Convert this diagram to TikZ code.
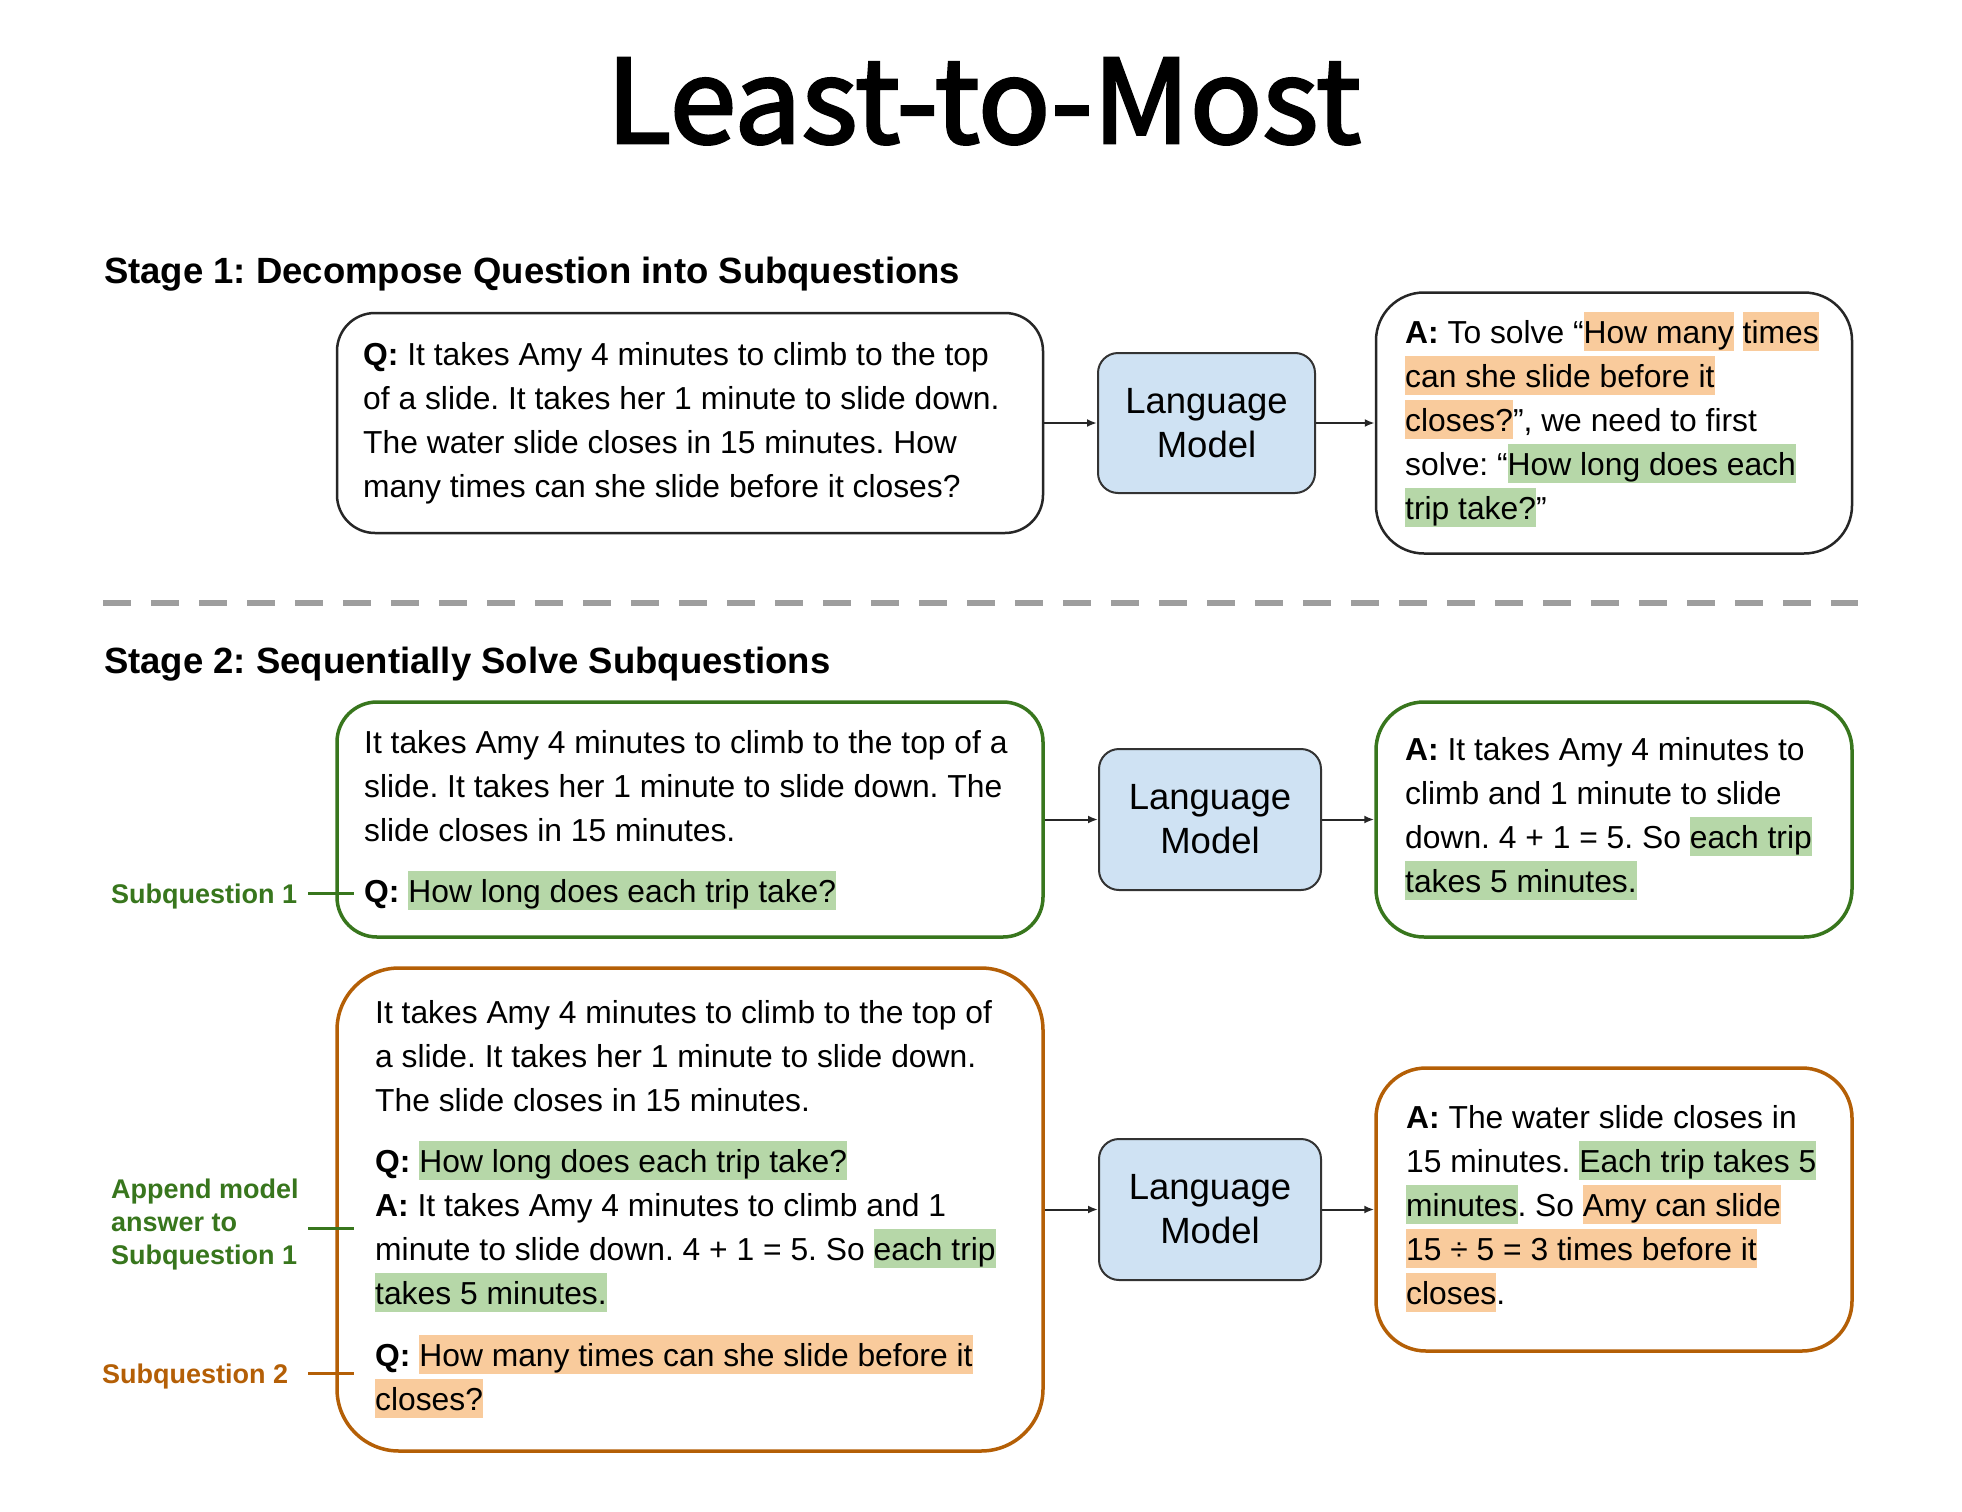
\documentclass[tikz,border=0pt]{standalone}
\usepackage{fontspec}
\usepackage{graphicx}
\setmainfont{Liberation Sans}
\newfontfamily\titlefont{Noto Sans CJK KR}[AutoFakeBold=2.5]
\usetikzlibrary{arrows.meta}
\definecolor{hlgreen}{HTML}{B6D7A8}
\definecolor{hlorange}{HTML}{F9CB9C}
\definecolor{lmblue}{HTML}{CFE2F3}
\definecolor{dkgreen}{HTML}{38761D}
\definecolor{dkorange}{HTML}{B45F06}
\definecolor{dashgray}{HTML}{9E9E9E}
\newcommand\hlG[1]{{\setlength{\fboxsep}{0pt}\colorbox{hlgreen}{\rule[-8pt]{0pt}{39pt}#1}}}
\newcommand\hlO[1]{{\setlength{\fboxsep}{0pt}\colorbox{hlorange}{\rule[-8pt]{0pt}{39pt}#1}}}
\newcommand\bodyfont{\fontsize{31.8pt}{44pt}\selectfont}
\newcommand\lblfont{\fontsize{27pt}{33pt}\selectfont\bfseries}
\newcommand\headfont{\fontsize{36.5pt}{44pt}\selectfont\bfseries}
\frenchspacing
\begin{document}
\begin{tikzpicture}[x=1pt,y=-1pt,
  boxbase/.style={inner sep=0pt, fill=white},
  blackbox/.style={boxbase, draw=black!85, line width=2.5pt},
  greenbox/.style={boxbase, draw=dkgreen, line width=3.5pt},
  orangebox/.style={boxbase, draw=dkorange, line width=3.5pt},
  lmbox/.style={draw=black!80, fill=lmblue, line width=2pt, rounded corners=20pt,
     minimum height=141pt, align=center, inner sep=0pt,
     font=\fontsize{36.5pt}{44pt}\selectfont},
  txt/.style={anchor=base west, inner sep=0pt},
  arr/.style={line width=2pt, black!85, -{Latex[length=10pt,width=8pt]}},
  tickline/.style={line width=3pt}
]
\fill[white] (0,0) rectangle (1962,1512);
\useasboundingbox (0,0) rectangle (1962,1512);

% Title
\node[txt] (title) at (606,143) {\resizebox{754pt}{85pt}{\titlefont\bfseries\addfontfeatures{FakeBold=1}Least-to-Most}};

% Stage 1
\node[txt, font=\headfont] (st1) at (104,283) {Stage 1: Decompose Question into Subquestions};

\node[blackbox, rounded corners=38pt, minimum width=706pt, minimum height=220pt] (q1) at (690,423) {};
\node[lmbox, minimum width=217pt, minimum height=140pt] (lm1) at (1206.5,423) {Language\\Model};
\node[blackbox, rounded corners=48pt, minimum width=476pt, minimum height=261pt] (a1) at (1614,423) {};
\draw[arr] (q1.east) -- (lm1.west);
\draw[arr] (lm1.east) -- (a1.west);

\node[txt] (q1t) at (363,365) {\parbox[t]{680pt}{\bodyfont
\textbf{Q:} It takes Amy 4 minutes to climb to the top\\
of a slide. It takes her 1 minute to slide down.\\
The water slide closes in 15 minutes. How\\
many times can she slide before it closes?}};

\node[txt] (a1t) at (1405,343) {\parbox[t]{460pt}{\bodyfont
\textbf{A:} To solve “\hlO{How many} \hlO{times}\\
\hlO{can she slide before it}\\
\hlO{closes?}”, we need to first\\
solve: “\hlG{How long does each}\\
\hlG{trip take?}”}};

% Dashed separator
\coordinate (dl) at (103,603);
\coordinate (dr) at (1858,603);
\draw[dashgray, line width=6pt, dash pattern=on 28pt off 20pt] (dl) -- (dr);

% Stage 2
\node[txt, font=\headfont] (st2) at (104,673) {Stage 2: Sequentially Solve Subquestions};

\node[greenbox, rounded corners=40pt, minimum width=706pt, minimum height=235pt] (g1) at (690,819.5) {};
\node[lmbox, minimum width=222pt] (lm2) at (1210,819.5) {Language\\Model};
\node[greenbox, rounded corners=48pt, minimum width=476pt, minimum height=235pt] (a2) at (1614,819.5) {};
\draw[arr] (g1.east) -- (lm2.west);
\draw[arr] (lm2.east) -- (a2.west);

\node[txt] (g1t) at (364,753) {\parbox[t]{680pt}{\bodyfont
It takes Amy 4 minutes to climb to the top of a\\
slide. It takes her 1 minute to slide down. The\\
slide closes in 15 minutes.\\[17pt]
\textbf{Q:} \hlG{How long does each trip take?}}};

\node[txt] (a2t) at (1405,760) {\parbox[t]{460pt}{\bodyfont
\textbf{A:} It takes Amy 4 minutes to\\
climb and 1 minute to slide\\
down. 4 + 1 = 5. So \hlG{each trip}\\
\hlG{takes 5 minutes.}}};

\node[orangebox, rounded corners=62pt, minimum width=706pt, minimum height=483pt] (o1) at (690,1209.5) {};
\node[lmbox, minimum width=222pt] (lm3) at (1210,1209.5) {Language\\Model};
\node[orangebox, rounded corners=50pt, minimum width=476pt, minimum height=283pt] (a3) at (1614,1209.5) {};
\draw[arr] (o1.east) -- (lm3.west);
\draw[arr] (lm3.east) -- (a3.west);

\node[txt] (o1t) at (375,1023) {\parbox[t]{680pt}{\bodyfont
It takes Amy 4 minutes to climb to the top of\\
a slide. It takes her 1 minute to slide down.\\
The slide closes in 15 minutes.\\[17pt]
\textbf{Q:} \hlG{How long does each trip take?}\\
\textbf{A:} It takes Amy 4 minutes to climb and 1\\
minute to slide down. 4 + 1 = 5. So \hlG{each trip}\\
\hlG{takes 5 minutes.}\\[18pt]
\textbf{Q:} \hlO{How many times can she slide before it}\\
\hlO{closes?}}};

\node[txt] (a3t) at (1406,1128) {\parbox[t]{460pt}{\bodyfont
\textbf{A:} The water slide closes in\\
15 minutes. \hlG{Each trip takes 5}\\
\hlG{minutes}. So \hlO{Amy can slide}\\
\hlO{15 ÷ 5 = 3 times before it}\\
\hlO{closes}.}};

% Side labels
\node[txt, text=dkgreen, font=\lblfont] (sq1) at (111,903) {Subquestion 1};
\coordinate (t1a) at (308,893);
\coordinate (t1b) at (354,893);
\draw[tickline, dkgreen] (t1a) -- (t1b);

\node[txt, text=dkgreen] (app) at (111,1198) {\parbox[t]{260pt}{\lblfont
Append model\\answer to\\Subquestion 1}};
\coordinate (t2a) at (308,1228);
\coordinate (t2b) at (354,1228);
\draw[tickline, dkgreen] (t2a) -- (t2b);

\node[txt, text=dkorange, font=\lblfont] (sq2) at (102,1383) {Subquestion 2};
\coordinate (t3a) at (308,1373);
\coordinate (t3b) at (354,1373);
\draw[tickline, dkorange] (t3a) -- (t3b);
\end{tikzpicture}
\end{document}
